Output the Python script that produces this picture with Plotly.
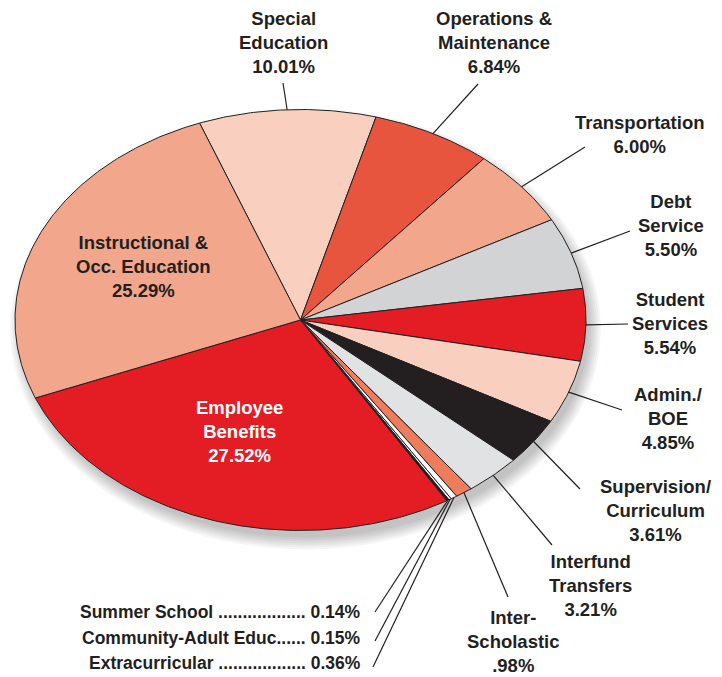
import numpy as np
import plotly.graph_objects as go

# ---------------- data ----------------
categories = ["Special Education", "Operations & Maintenance", "Transportation",
              "Debt Service", "Student Services", "Admin./BOE",
              "Supervision/Curriculum", "Interfund Transfers", "Inter-Scholastic",
              "Extracurricular", "Community-Adult Educ.", "Summer School",
              "Employee Benefits", "Instructional & Occ. Education"]
percent = [10.01, 6.84, 6.00, 5.50, 5.54, 4.85, 3.61, 3.21, 0.98,
           0.36, 0.15, 0.14, 27.52, 25.29]
label_text = ["Special<br>Education<br>10.01%",
              "Operations &<br>Maintenance<br>6.84%",
              "Transportation<br>6.00%",
              "Debt<br>Service<br>5.50%",
              "Student<br>Services<br>5.54%",
              "Admin./<br>BOE<br>4.85%",
              "Supervision/<br>Curriculum<br>3.61%",
              "Interfund<br>Transfers<br>3.21%",
              "Inter-<br>Scholastic<br>.98%",
              "Extracurricular .................. 0.36%",
              "Community-Adult Educ...... 0.15%",
              "Summer School .................. 0.14%",
              "Employee<br>Benefits<br>27.52%",
              "Instructional &<br>Occ. Education<br>25.29%"]

# ---------------- styles / layout ----------------
colors = ["#F9CFC0", "#E8553F", "#F2A78C", "#D1D3D4", "#E41C24", "#F9CFC0",
          "#231F20", "#E1E2E3", "#EE7D5E", "#FFFFFF", "#FFFFFF", "#231F20",
          "#E41C24", "#F2A78C"]
INK = "#231F20"
W, H = 722, 677          # browser window
PAD = 8                  # default page body margin
CX, CY, RX, RY = 300.5, 320.0, 285.5, 210.5
START_DEG = 110.7          # parametric angle of first slice edge

# label anchor (x, y, xanchor), leader line end (None = no leader), font colour, size
label_layout = [
    (283, 42, "center", (283, 83), INK, 18.5),
    (494, 42, "center", (478, 84), INK, 18.5),
    (640, 134, "center", (585, 147), INK, 18.5),
    (671, 225, "center", (630, 231), INK, 18.5),
    (670, 323, "center", (628, 324), INK, 18.5),
    (668, 418, "center", (622, 410), INK, 18.5),
    (655, 510, "center", (580, 489), INK, 18.5),
    (590, 585, "center", (552, 545), INK, 18.5),
    (513, 641, "center", (508, 597), INK, 18.5),
    (363, 663, "right", (373, 667), INK, 17.5),
    (363, 638, "right", (375, 641), INK, 17.5),
    (363, 612, "right", (375, 612), INK, 17.5),
    (239, 431, "center", None, "#FFFFFF", 18.5),
    (143, 266, "center", None, INK, 18.5),
]

FONT = "Liberation Sans, Arial, Helvetica, sans-serif"

fig = go.Figure()

# soft drop shadow (layered translucent ellipses)
tt = np.linspace(0, 2 * np.pi, 240)
for s in range(0, 14, 2):
    fig.add_trace(go.Scatter(
        x=CX + 5 + (RX + 10 - s) * np.cos(tt),
        y=CY + 9 + (RY + 10 - s) * np.sin(tt),
        mode="lines", fill="toself", line=dict(width=0),
        fillcolor="rgba(0,0,0,0.035)", hoverinfo="skip", showlegend=False))

# slices
total = float(sum(percent))
edges = START_DEG - 360.0 * np.concatenate([[0], np.cumsum(percent)]) / total
mids = []
for i, (name, v, c) in enumerate(zip(categories, percent, colors)):
    a0, a1 = np.radians(edges[i]), np.radians(edges[i + 1])
    n = max(4, int(abs(edges[i] - edges[i + 1]) * 2))
    t = np.linspace(a0, a1, n)
    xs = np.concatenate([[CX], CX + RX * np.cos(t), [CX]])
    ys = np.concatenate([[CY], CY - RY * np.sin(t), [CY]])
    fig.add_trace(go.Scatter(
        x=xs, y=ys, mode="lines", fill="toself", fillcolor=c,
        line=dict(color=INK, width=1), name=name,
        hovertemplate=f"{name}: {v:.2f}%<extra></extra>", showlegend=False))
    am = np.radians((edges[i] + edges[i + 1]) / 2)
    mids.append((CX + RX * np.cos(am), CY - RY * np.sin(am)))

# leader lines
lx, ly = [], []
for (mx, my), (ax, ay, xa, end, fc, fs) in zip(mids, label_layout):
    if end is None:
        continue
    lx += [mx, end[0], None]
    ly += [my, end[1], None]
fig.add_trace(go.Scatter(x=lx, y=ly, mode="lines",
                         line=dict(color=INK, width=1.2),
                         hoverinfo="skip", showlegend=False))

# labels
for txt, (ax, ay, xa, end, fc, fs) in zip(label_text, label_layout):
    fig.add_annotation(x=ax, y=ay, xref="x", yref="y", text=txt,
                       showarrow=False, xanchor=xa, yanchor="middle",
                       align="center" if xa == "center" else "right",
                       font=dict(family=FONT, size=fs, color=fc, weight="bold"))

fig.update_xaxes(range=[PAD, W], visible=False, fixedrange=True)
fig.update_yaxes(range=[H, PAD], visible=False, fixedrange=True)
fig.update_layout(width=W - PAD, height=H - PAD,
                  margin=dict(l=0, r=0, t=0, b=0),
                  plot_bgcolor="white", paper_bgcolor="white",
                  showlegend=False)

fig.write_html("out.html")
